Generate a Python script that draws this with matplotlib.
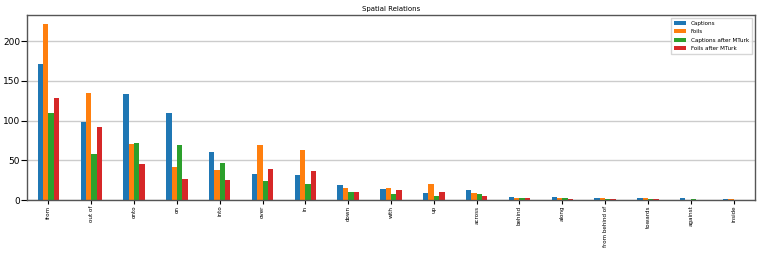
import pandas as pd
import matplotlib
matplotlib.use('Agg')
import matplotlib.pyplot as plt

relations = ['from', 'out of', 'onto', 'on', 'into', 'over', 'in', 'down', 'with',
             'up', 'across', 'behind', 'along', 'from behind of', 'towards',
             'against', 'inside']
captions = [171, 98, 134, 109, 61, 33, 31, 19, 14, 9, 13, 4, 4, 2, 2, 3, 1]
foils = [222, 135, 70, 42, 38, 69, 63, 15, 15, 20, 9, 2, 2, 3, 2, 0, 1]
captions_mturk = [109, 58, 72, 69, 46, 24, 20, 10, 7, 5, 7, 3, 3, 1, 1, 1, 0]
foils_mturk = [129, 92, 45, 27, 25, 39, 36, 10, 12, 10, 5, 2, 1, 1, 1, 0, 0]

df = pd.DataFrame({
    'Captions': captions,
    'Foils': foils,
    'Captions after MTurk': captions_mturk,
    'Foils after MTurk': foils_mturk,
}, index=relations)

fig = plt.figure(figsize=(7.61, 2.54), dpi=100)
ax = fig.add_axes([27 / 761, 1 - 200 / 254, (755 - 27) / 761, (200 - 15) / 254])

df.plot(kind='bar', ax=ax, width=0.5)

ax.set_ylim(0, 233)
ax.set_yticks([0, 50, 100, 150, 200])
ax.set_title('Spatial Relations', fontsize=5, pad=3)
ax.yaxis.grid(True, color='#cccccc', linewidth=1)
ax.set_axisbelow(True)
ax.tick_params(axis='y', labelsize=6.5, length=4, pad=1)
ax.tick_params(axis='x', labelsize=4.1, length=3, pad=1, rotation=90)
for s in ax.spines.values():
    s.set_color('#555555')
    s.set_linewidth(1)

ax.legend(fontsize=4.1, loc='upper right', handlelength=2.1, borderpad=0.6,
          labelspacing=0.55, fancybox=False, borderaxespad=0.5)

fig.savefig('out.png', dpi=100)
